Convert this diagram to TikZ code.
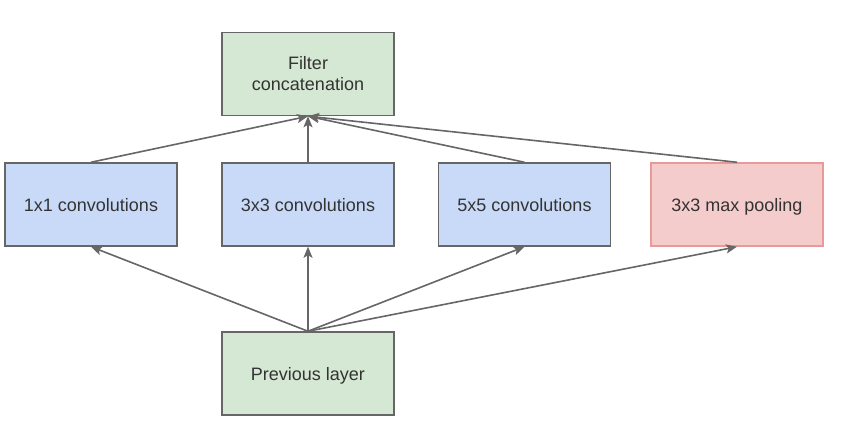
\documentclass[tikz,border=0pt]{standalone}
\usepackage{fontspec}
\setmainfont{Liberation Sans}
\usetikzlibrary{arrows.meta}
\definecolor{gfill}{HTML}{D5E8D4}
\definecolor{bfill}{HTML}{C9DAF8}
\definecolor{pfill}{HTML}{F4CCCC}
\definecolor{pline}{HTML}{EA9999}
\definecolor{eline}{HTML}{666666}
\definecolor{txt}{HTML}{333333}
\begin{document}
\begin{tikzpicture}[x=1pt,y=-1pt,
  box/.style={draw=eline, line width=1.5pt, minimum width=172pt, minimum height=83pt,
    inner sep=0pt, align=center, text=txt, font=\fontsize{18}{21}\selectfont},
  one/.style={text height=14pt, text depth=0pt},
  gbox/.style={box, fill=gfill},
  bbox/.style={box, fill=bfill, one},
  pbox/.style={box, fill=pfill, draw=pline, one},
  conn/.style={draw=eline, line width=1.6pt, -{Stealth[length=11pt,width=9pt,inset=2.5pt]}}]
\useasboundingbox (0,0) rectangle (868,429);
\node[gbox] (filt) at (308,74) {Filter\\concatenation};
\node[bbox] (c1) at (91,204.5) {1x1 convolutions};
\node[bbox] (c3) at (308,204.5) {3x3 convolutions};
\node[bbox] (c5) at (524.5,204.5) {5x5 convolutions};
\node[pbox] (mp) at (737,204.5) {3x3 max pooling};
\node[gbox, one] (prev) at (308,373.5) {Previous layer};
\foreach \n in {c1,c3,c5,mp}{
  \draw[conn] (\n.north) -- (filt.south);
  \draw[conn] (prev.north) -- (\n.south);
}
\end{tikzpicture}
\end{document}
